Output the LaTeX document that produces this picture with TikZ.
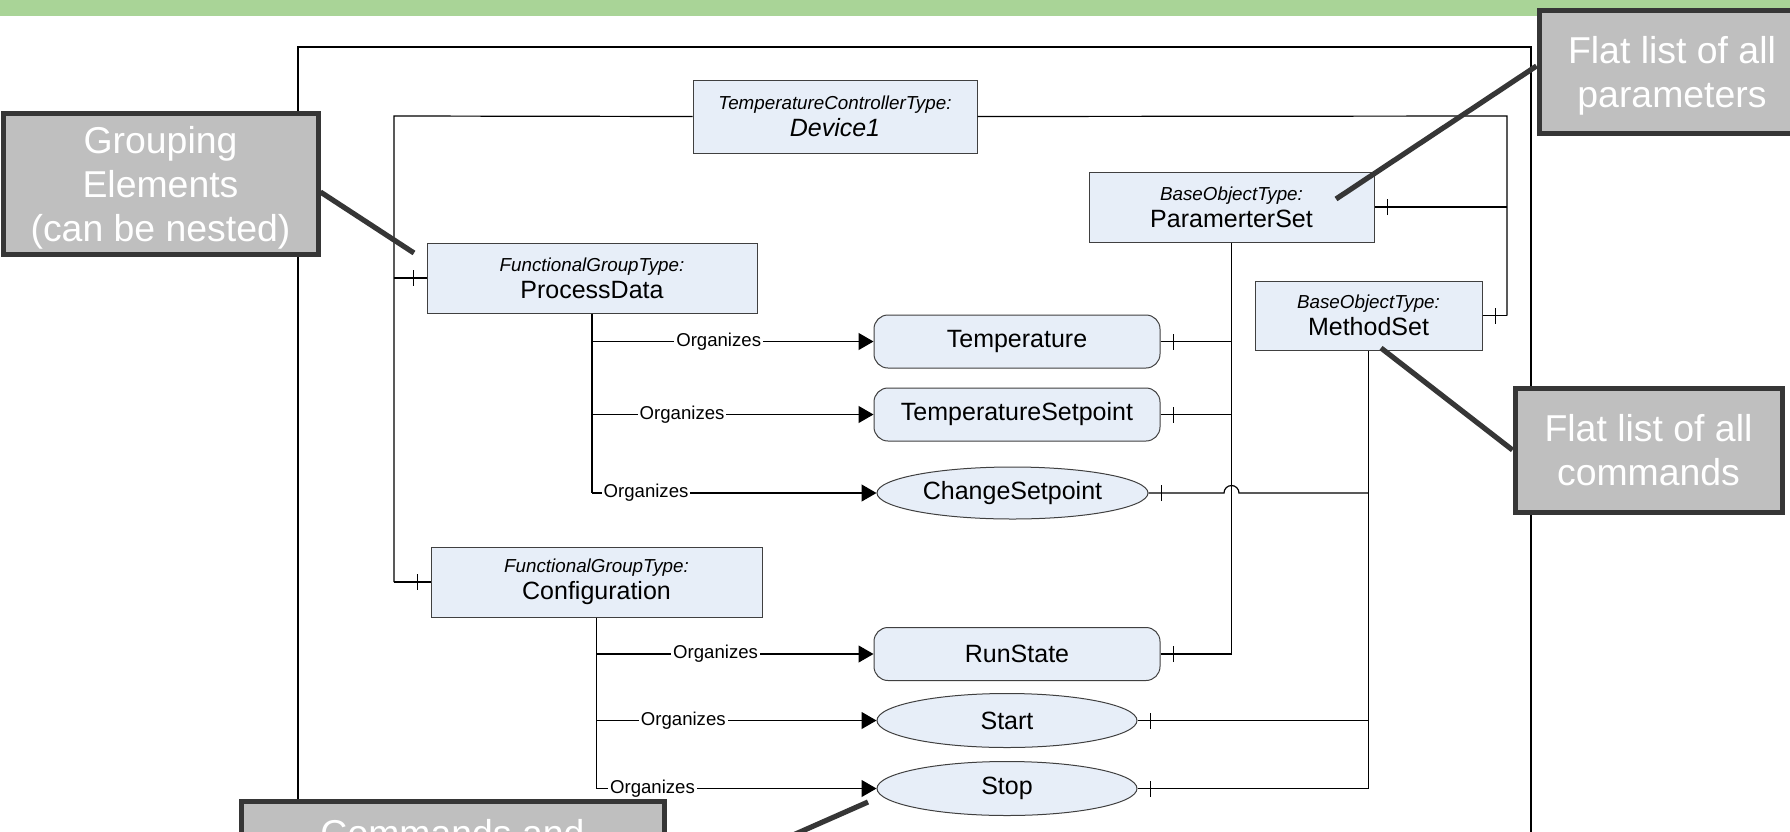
\documentclass[tikz,border=0pt]{standalone}
\usepackage{fontspec}
\setmainfont{Liberation Sans}
\usetikzlibrary{arrows.meta,positioning,shapes.geometric,decorations.markings}
\definecolor{barGreen}{HTML}{A9D497}
\definecolor{boxBlue}{HTML}{E7EEF8}
\definecolor{boxEdge}{HTML}{404040}
\definecolor{noteGray}{HTML}{BFBFBF}
\definecolor{noteEdge}{HTML}{363636}
\newcommand{\typefont}{\fontsize{9.4}{11}\selectfont\itshape}

\begin{document}
\begin{tikzpicture}[x=0.5pt,y=-0.5pt,
  typebox/.style={draw=boxEdge,line width=0.5pt,fill=boxBlue,align=center,inner sep=0pt,font=\fontsize{12.5}{13.5}\selectfont},
  varbox/.style={draw=boxEdge,line width=0.5pt,fill=boxBlue,rounded corners=7pt,minimum width=143pt,minimum height=26.5pt,inner sep=0pt,font=\fontsize{12.5}{14}\selectfont},
  methell/.style={ellipse,draw=boxEdge,line width=0.5pt,fill=boxBlue,inner sep=0pt,minimum width=130pt,minimum height=27pt,font=\fontsize{12.5}{14}\selectfont},
  note/.style={draw=noteEdge,line width=2.5pt,fill=noteGray,text=white,align=center,inner sep=0pt,text depth=0pt,font=\fontsize{18.7}{22}\selectfont},
  callline/.style={draw=noteEdge,line width=2.6pt},
  ln/.style={line width=0.6pt},
  comp/.style={ln,decoration={markings,mark=at position 6.5pt with {\draw[line width=0.5pt] (0,-4pt)--(0,4pt);}},postaction={decorate}},
  ar/.style={ln,-{Triangle[length=7.5pt,width=8.5pt]}},
  lbl/.style={fill=white,inner xsep=1pt,inner ysep=0.5pt,font=\fontsize{9.3}{10}\selectfont}]
\clip (0,0) rectangle (1790,831);
\fill[white] (0,0) rectangle (1790,831);
\fill[barGreen] (0,0) rectangle (1790,16);
\draw[line width=1pt] (298,47) rectangle (1531,900);
% objects
\node[typebox,minimum width=142pt,minimum height=36.5pt] (dev) at (835,116.5) {{\typefont TemperatureControllerType:}\\\textit{Device1}};
\node[typebox,minimum width=142.5pt,minimum height=35pt] (pset) at (1231.5,207) {{\typefont BaseObjectType:}\\ParamerterSet};
\node[typebox,minimum width=113.5pt,minimum height=34.5pt] (mset) at (1368.5,315.5) {{\typefont BaseObjectType:}\\MethodSet};
\node[typebox,minimum width=165pt,minimum height=35pt] (pdata) at (592,278) {{\typefont FunctionalGroupType:}\\ProcessData};
\node[typebox,minimum width=165.5pt,minimum height=35pt] (cfg) at (596.5,582) {{\typefont FunctionalGroupType:}\\Configuration};
\node[varbox] (temp) at (1017,341.5) {Temperature};
\node[varbox,below=9.5pt of temp] (tsp) {TemperatureSetpoint};
\node[methell,minimum width=135.5pt,minimum height=26pt] (chg) at (1012.5,493) {ChangeSetpoint};
\node[varbox] (run) at (1017,654) {RunState};
\node[methell] (start) at (1007,720.5) {Start};
\node[methell,below=6.5pt of start] (stop) {Stop};
% device bus
\coordinate (busL) at (394,116);
\coordinate (busR) at (1507,116);
\draw[ln] (dev.west) -- (busL) -- (busL |- cfg.west);
\draw[comp] (pdata.west) -- (busL |- pdata.west);
\draw[comp] (cfg.west) -- (busL |- cfg.west);
\draw[ln] (dev.east) -- (busR) -- (busR |- mset.east);
\draw[comp] (pset.east) -- (busR |- pset.east);
\draw[comp] (mset.east) -- (busR |- mset.east);
% parameter set
\draw[ln] (pset.south) -- (pset.south |- run.east);
\draw[comp] (temp.east) -- (pset.south |- temp.east);
\draw[comp] (tsp.east) -- (pset.south |- tsp.east);
\draw[comp] (run.east) -- (pset.south |- run.east);
% method set
\coordinate (hop) at (pset.south |- chg.east);
\draw[ln] (mset.south) -- (mset.south |- stop.east);
\draw[comp] (chg.east) -- ([xshift=-3.75pt]hop) arc[start angle=180,end angle=360,radius=7.5] -- (mset.south |- chg.east);
\draw[comp] (start.east) -- (mset.south |- start.east);
\draw[comp] (stop.east) -- (mset.south |- stop.east);
% organizes
\draw[ln] (pdata.south) -- (pdata.south |- chg.west);
\draw[ar] (pdata.south |- temp.west) -- node[lbl,pos=0.45]{Organizes} (temp.west);
\draw[ar] (pdata.south |- tsp.west) -- node[lbl,pos=0.32]{Organizes} (tsp.west);
\draw[ar] (pdata.south |- chg.west) -- node[lbl,pos=0.19]{Organizes} (chg.west);
\draw[ln] (cfg.south) -- (cfg.south |- stop.west);
\draw[ar] (cfg.south |- run.west) -- node[lbl,pos=0.43]{Organizes} (run.west);
\draw[ar] (cfg.south |- start.west) -- node[lbl,pos=0.31]{Organizes} (start.west);
\draw[ar] (cfg.south |- stop.west) -- node[lbl,pos=0.2]{Organizes} (stop.west);
% callouts
\node[note,minimum width=157.5pt,minimum height=70.5pt] (grp) at (160.5,183.5) {Grouping\\Elements\\(can be nested)};
\node[note,minimum width=133pt,minimum height=61.5pt] (parnote) at (1672,71.5) {Flat list of all\\parameters};
\node[note,minimum width=133.5pt,minimum height=62pt] (cmdnote) at (1648.5,450) {Flat list of all\\commands};
\node[note,anchor=north,minimum width=211.5pt,inner ysep=9pt] (cmdpar) at (452.5,799) {Commands and};
\coordinate (grpTip) at (414,253);
\coordinate (parTip) at (1336,199);
\coordinate (cmdTip) at (1381,348);
\coordinate (stopTip) at (868,802);
\coordinate (cmdparFoot) at (664,892);
\draw[callline] ([yshift=-4.25pt]grp.east) -- (grpTip);
\draw[callline] ([yshift=2.75pt]parnote.west) -- (parTip);
\draw[callline] (cmdnote.west) -- (cmdTip);
\draw[callline] (cmdparFoot) -- (stopTip);
\end{tikzpicture}
\end{document}
